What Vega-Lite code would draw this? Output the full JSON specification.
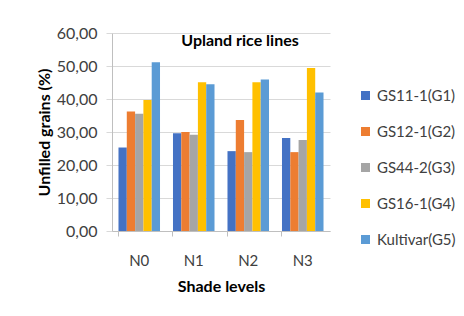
{
  "$schema": "https://vega.github.io/schema/vega-lite/v6.json",
  "width": 218,
  "height": 198,
  "autosize": {"type": "none"},
  "padding": {"left": 112, "top": 33, "right": 134, "bottom": 85},
  "background": "white",
  "title": {"text": "Upland rice lines", "anchor": "middle", "dx": 19, "offset": -24, "font": "Lato", "fontSize": 16, "fontWeight": "bold", "color": "#000000"},
  "data": {"values": [
    {"level": "N0", "line": "GS11-1(G1)", "value": 25.3},
    {"level": "N0", "line": "GS12-1(G2)", "value": 36.2},
    {"level": "N0", "line": "GS44-2(G3)", "value": 35.5},
    {"level": "N0", "line": "GS16-1(G4)", "value": 39.7},
    {"level": "N0", "line": "Kultivar(G5)", "value": 51.1},
    {"level": "N1", "line": "GS11-1(G1)", "value": 29.6},
    {"level": "N1", "line": "GS12-1(G2)", "value": 30.0},
    {"level": "N1", "line": "GS44-2(G3)", "value": 29.2},
    {"level": "N1", "line": "GS16-1(G4)", "value": 45.1},
    {"level": "N1", "line": "Kultivar(G5)", "value": 44.5},
    {"level": "N2", "line": "GS11-1(G1)", "value": 24.2},
    {"level": "N2", "line": "GS12-1(G2)", "value": 33.6},
    {"level": "N2", "line": "GS44-2(G3)", "value": 23.9},
    {"level": "N2", "line": "GS16-1(G4)", "value": 45.1},
    {"level": "N2", "line": "Kultivar(G5)", "value": 45.9},
    {"level": "N3", "line": "GS11-1(G1)", "value": 28.2},
    {"level": "N3", "line": "GS12-1(G2)", "value": 23.9},
    {"level": "N3", "line": "GS44-2(G3)", "value": 27.6},
    {"level": "N3", "line": "GS16-1(G4)", "value": 49.4},
    {"level": "N3", "line": "Kultivar(G5)", "value": 42.0}
  ]},
  "mark": {"type": "bar"},
  "encoding": {
    "x": {
      "field": "level", "type": "nominal",
      "scale": {"paddingInner": 0.238, "paddingOuter": 0.119},
      "axis": {
        "title": "Shade levels", "titleFont": "Lato", "titleFontSize": 16, "titleFontWeight": "bold", "titleColor": "#000000", "titlePadding": 10,
        "labelAngle": 0, "labelFont": "Lato", "labelFontSize": 15, "labelColor": "#404040", "labelPadding": 17,
        "bandPosition": 0, "tickSize": 5, "tickColor": "#bfbfbf", "domainColor": "#bfbfbf", "grid": false
      }
    },
    "xOffset": {"field": "line", "type": "nominal", "sort": ["GS11-1(G1)", "GS12-1(G2)", "GS44-2(G3)", "GS16-1(G4)", "Kultivar(G5)"], "scale": {"paddingInner": 0, "paddingOuter": 0}},
    "y": {
      "field": "value", "type": "quantitative",
      "scale": {"domain": [0, 60]},
      "axis": {
        "title": "Unfilled grains (%)", "titleFont": "Lato", "titleFontSize": 16, "titleFontWeight": "bold", "titleColor": "#000000",
        "titleX": -60, "titleBaseline": "bottom",
        "values": [0, 10, 20, 30, 40, 50, 60],
        "labelExpr": "replace(format(datum.value, '.2f'), '.', ',')",
        "labelFont": "Lato", "labelFontSize": 16, "labelColor": "#404040", "labelPadding": 9,
        "ticks": true, "tickSize": 6, "tickColor": "#d9d9d9", "domain": true, "domainColor": "#bfbfbf", "gridColor": "#d9d9d9"
      }
    },
    "color": {
      "field": "line", "type": "nominal",
      "sort": ["GS11-1(G1)", "GS12-1(G2)", "GS44-2(G3)", "GS16-1(G4)", "Kultivar(G5)"],
      "scale": {"range": ["#4472C4", "#ED7D31", "#A5A5A5", "#FFC000", "#5B9BD5"]},
      "legend": {
        "title": null, "orient": "none", "legendX": 246, "legendY": 55,
        "symbolType": "square", "symbolSize": 81, "symbolStrokeWidth": 0,
        "labelFont": "Lato", "labelFontSize": 15, "labelColor": "#404040", "rowPadding": 20, "labelOffset": 4
      }
    }
  },
  "config": {"view": {"stroke": null}}
}
